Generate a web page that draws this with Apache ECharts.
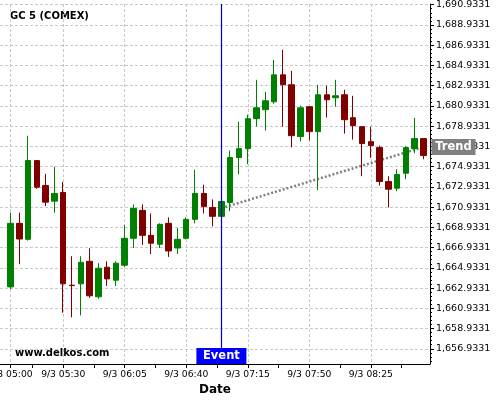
<!DOCTYPE html>
<html><head><meta charset="utf-8">
<script src="https://cdn.jsdelivr.net/npm/echarts@6/dist/echarts.min.js"></script>
<style>html,body{margin:0;padding:0;background:#fff}#c{width:500px;height:400px}</style>
</head><body><div id="c"></div>
<script>
const times = ['9/3 05:00','9/3 05:05','9/3 05:10','9/3 05:15','9/3 05:20','9/3 05:25','9/3 05:30','9/3 05:35','9/3 05:40','9/3 05:45','9/3 05:50','9/3 05:55',
'9/3 06:00','9/3 06:05','9/3 06:10','9/3 06:15','9/3 06:20','9/3 06:25','9/3 06:30','9/3 06:35','9/3 06:40','9/3 06:45','9/3 06:50','9/3 06:55',
'9/3 07:00','9/3 07:05','9/3 07:10','9/3 07:15','9/3 07:20','9/3 07:25','9/3 07:30','9/3 07:35','9/3 07:40','9/3 07:45','9/3 07:50','9/3 07:55',
'9/3 08:00','9/3 08:05','9/3 08:10','9/3 08:15','9/3 08:20','9/3 08:25','9/3 08:30','9/3 08:35','9/3 08:40','9/3 08:45','9/3 08:50','9/3 08:55'];
const opens = [1663.05,1669.33,1667.75,1675.53,1673.07,1671.52,1672.38,1663.22,1663.35,1665.58,1662.07,1664.99,
1663.71,1665.19,1667.85,1670.61,1668.14,1667.26,1669.33,1666.89,1667.85,1669.72,1672.28,1670.90,
1670.02,1671.39,1675.83,1676.71,1679.67,1680.56,1681.34,1684.00,1683.02,1677.90,1680.85,1678.39,
1682.03,1681.74,1682.03,1679.77,1678.88,1677.40,1676.81,1673.46,1672.80,1674.28,1676.71,1677.70];
const closes = [1669.33,1667.78,1675.53,1672.90,1671.42,1672.28,1663.35,1663.18,1665.48,1662.17,1664.89,1663.84,
1665.39,1667.85,1670.80,1668.14,1667.36,1669.23,1666.60,1667.75,1669.72,1672.28,1671.00,1670.02,
1671.49,1675.83,1676.71,1679.67,1680.75,1681.44,1684.00,1683.02,1677.99,1680.75,1678.39,1682.03,
1681.54,1681.93,1679.57,1678.98,1677.21,1677.01,1673.46,1672.70,1674.15,1676.81,1677.70,1676.02];
const lows = [1662.82,1665.29,1667.62,1672.74,1671.03,1670.38,1660.49,1660.04,1660.23,1661.97,1661.87,1663.15,
1663.12,1664.99,1666.89,1667.19,1666.30,1666.89,1666.01,1666.30,1667.75,1669.33,1670.31,1669.03,
1669.90,1670.54,1674.18,1675.17,1678.88,1678.49,1681.15,1678.88,1676.84,1677.43,1677.53,1672.61,
1679.77,1680.85,1678.19,1677.60,1673.99,1675.80,1673.07,1670.90,1672.51,1673.69,1676.25,1675.66];
const highs = [1670.38,1670.38,1677.99,1675.53,1674.22,1674.91,1673.43,1666.08,1666.08,1666.86,1665.39,1665.58,
1665.58,1669.16,1671.20,1671.20,1670.31,1669.33,1669.92,1668.86,1669.92,1674.62,1673.14,1671.69,
1671.60,1676.52,1679.37,1680.06,1683.51,1682.33,1685.48,1686.47,1684.40,1680.95,1680.85,1683.02,
1682.92,1683.51,1682.53,1681.93,1678.88,1678.88,1677.01,1673.99,1674.68,1676.94,1679.74,1677.70];
const yTicks = [1656.9331,1658.9331,1660.9331,1662.9331,1664.9331,1666.9331,1668.9331,1670.9331,1672.9331,
1674.9331,1676.9331,1678.9331,1680.9331,1682.9331,1684.9331,1686.9331,1688.9331,1690.9331];
const yTickLabels = ['1,656.9331','1,658.9331','1,660.9331','1,662.9331','1,664.9331','1,666.9331','1,668.9331','1,670.9331','1,672.9331',
'1,674.9331','1,676.9331','1,678.9331','1,680.9331','1,682.9331','1,684.9331','1,686.9331','1,688.9331','1,690.9331'];
const xLabelIdx = [0, 6, 13, 20, 27, 34, 41];
const xMinorIdx = [2.5, 9.5, 16.5, 23.5, 30.5, 37.5, 44.5];
const eventIdx = 24;
const trendX = [24, 47];
const trendY = [1670.83, 1676.86];
const yMin = 1655.43, yMax = 1691.0;
const xMin = -1.195, xMax = 47.74;

const FONT = 'DejaVu Sans';
const candleData = times.map((t, i) => [i, opens[i], closes[i], lows[i], highs[i]]);
const yMinor = [];
for (let j = -3; j <= 85; j++) {
  if (j % 5 === 0) continue;
  const v = +(yTicks[0] + 0.4 * j).toFixed(4);
  if (v > yMin && v < yMax) yMinor.push(v);
}
function yLabel(v) {
  let best = 0, bd = Infinity;
  yTicks.forEach((t, i) => { const d = Math.abs(t - v); if (d < bd) { bd = d; best = i; } });
  return yTickLabels[best];
}

const chart = echarts.init(document.getElementById('c'), null, {renderer: 'canvas'});
chart.setOption({
  animation: false,
  backgroundColor: '#ffffff',
  grid: {left: 0, right: 70, top: 4, bottom: 36, containLabel: false, outerBoundsMode: 'none'},
  graphic: [
    {type: 'text', x: 10, y: 16, style: {text: 'GC 5 (COMEX)', font: 'bold 10px "DejaVu Sans"', fill: '#000', verticalAlign: 'middle'}},
    {type: 'text', x: 15, y: 353, style: {text: 'www.delkos.com', font: 'bold 10px "DejaVu Sans"', fill: '#000', verticalAlign: 'middle'}, z: 10}
  ],
  xAxis: [{
    type: 'value', min: xMin, max: xMax, position: 'bottom',
    name: 'Date', nameLocation: 'middle', nameGap: 19,
    nameTextStyle: {fontFamily: FONT, fontWeight: 'bold', fontSize: 12, color: '#000'},
    axisLine: {show: true, onZero: false, lineStyle: {color: '#000', width: 1}},
    axisTick: {show: true, length: 4, customValues: xLabelIdx, lineStyle: {color: '#000'}},
    axisLabel: {show: true, customValues: xLabelIdx, margin: 6, fontFamily: FONT, fontSize: 9.2, color: '#000',
      formatter: v => times[Math.round(v)]},
    splitLine: {show: true, lineStyle: {color: '#c8c8c8', type: [3, 2], width: 1}}
  }, {
    type: 'value', min: xMin, max: xMax, position: 'bottom',
    axisLine: {show: false, onZero: false},
    axisTick: {show: true, length: 4, customValues: xMinorIdx, lineStyle: {color: '#000'}},
    axisLabel: {show: false},
    splitLine: {show: false}
  }],
  yAxis: [{
    type: 'value', min: yMin, max: yMax, position: 'right',
    axisLine: {show: true, onZero: false, lineStyle: {color: '#000', width: 1}},
    axisTick: {show: true, length: 4, customValues: yTicks, lineStyle: {color: '#000'}},
    axisLabel: {show: true, customValues: yTicks, margin: 6, fontFamily: FONT, fontSize: 9.5, color: '#000', formatter: yLabel},
    splitLine: {show: true, lineStyle: {color: '#c8c8c8', type: [3, 2], width: 1}}
  }, {
    type: 'value', min: yMin, max: yMax, position: 'right',
    axisLine: {show: false, onZero: false},
    axisTick: {show: true, length: 2, customValues: yMinor, lineStyle: {color: '#000'}},
    axisLabel: {show: false},
    splitLine: {show: false}
  }],
  series: [{
    type: 'candlestick',
    xAxisIndex: 0, yAxisIndex: 0,
    data: candleData,
    barWidth: 6,
    itemStyle: {color: '#008000', color0: '#800000', borderColor: '#008000', borderColor0: '#800000', borderWidth: 1},
    z: 3
  }, {
    type: 'line',
    xAxisIndex: 0, yAxisIndex: 0,
    data: trendX.map((x, i) => [x, trendY[i]]),
    symbol: 'none',
    lineStyle: {color: '#808080', width: 2.5, type: [2, 2]},
    z: 2,
    markLine: {
      silent: true, symbol: 'none',
      label: {show: false},
      lineStyle: {color: '#0000c8', width: 1.2, type: 'solid', opacity: 1},
      data: [{xAxis: eventIdx}],
      z: 5
    },
    markPoint: {
      silent: true,
      z: 10,
      data: [
        {coord: [eventIdx, yMin], symbol: 'rect', symbolSize: [50, 16], symbolOffset: [0, -8],
          itemStyle: {color: '#0000ff'},
          label: {show: true, position: 'inside', formatter: 'Event', color: '#fff', fontFamily: FONT, fontWeight: 'bold', fontSize: 11.5}},
        {coord: [trendX[1], trendY[1]], symbol: 'rect', symbolSize: [44, 16], symbolOffset: [30, 0],
          itemStyle: {color: '#808080'},
          label: {show: true, position: 'inside', formatter: 'Trend', color: '#fff', fontFamily: FONT, fontWeight: 'bold', fontSize: 11.5}}
      ]
    }
  }]
});
</script>
</body></html>
